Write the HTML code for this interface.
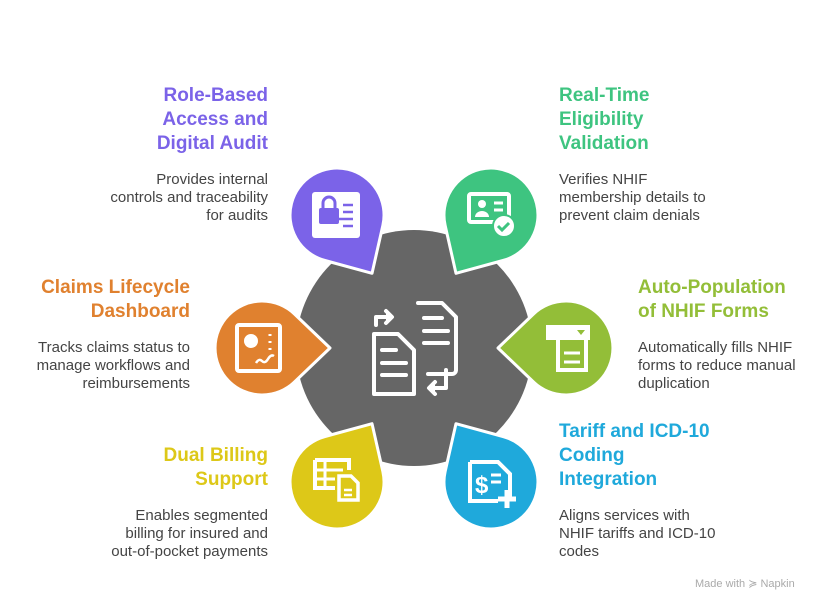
<!DOCTYPE html>
<html><head><meta charset="utf-8"><style>
html,body{margin:0;padding:0;background:#fff;}
body{width:828px;height:612px;position:relative;overflow:hidden;font-family:"Liberation Sans",Arial,sans-serif;}
.t{position:absolute;font-weight:bold;font-size:19px;line-height:24px;}
.d{position:absolute;font-size:15px;line-height:18px;color:#444;}
.r{text-align:right;}
</style></head><body>
<svg width="828" height="612" style="position:absolute;left:0;top:0">
<defs>
<path id="p" d="M68 0 L32.5 34 A47 47 0 1 1 32.5 -34 Z"/>
</defs>
<circle cx="414" cy="348" r="118" fill="#666666"/>
<g stroke="#fff" stroke-width="3" stroke-linejoin="round">
<use href="#p" transform="translate(262,348) rotate(0)" fill="#E0812F"/>
<use href="#p" transform="translate(337,215) rotate(59)" fill="#7B63E8"/>
<use href="#p" transform="translate(491,215) rotate(121)" fill="#3EC480"/>
<use href="#p" transform="translate(566,348) rotate(180)" fill="#93BE38"/>
<use href="#p" transform="translate(491,482) rotate(239)" fill="#1FA9DB"/>
<use href="#p" transform="translate(337,482) rotate(301)" fill="#DDC818"/>
</g>
<g fill="none" stroke="#fff" stroke-width="4" stroke-linecap="round" stroke-linejoin="round">
<path d="M418 303 h24 l14 14 v53 a4 4 0 0 1 -4 4 h-24"/>
<path d="M424 318 h18 M424 331 h24 M424 343 h24"/>
<path d="M374 334 h24 l16 16 v44 h-40 z"/>
<path d="M382 350 h14 M382 363 h24 M382 375 h24"/>
<path d="M376 325 v-8 h12"/><path d="M386 311 l6 6 l-6 6" fill="#fff"/>
<path d="M446 370 v18 h-14"/><path d="M435 382 l-6 6 l6 6" fill="#fff"/>
</g>
<rect x="312" y="192" width="48" height="46" rx="3" fill="#fff"/>
<rect x="319" y="208" width="20" height="16" rx="2" fill="#7B63E8"/>
<path d="M323 208 v-5 a6 6 0 0 1 12 0 v5" stroke="#7B63E8" stroke-width="3" fill="none"/>
<path d="M343 205 h10 M343 212 h10 M338 219 h15 M343 226 h10" stroke="#7B63E8" stroke-width="2.5"/>
<rect x="469" y="194" width="40" height="28" rx="2" fill="none" stroke="#fff" stroke-width="4"/>
<circle cx="482" cy="204" r="4" fill="#fff"/><path d="M475 217 a7 6 0 0 1 14 0z" fill="#fff"/>
<path d="M494 203 h9 M494 210 h9" stroke="#fff" stroke-width="3"/>
<circle cx="504" cy="226" r="11" fill="#fff" stroke="#3EC480" stroke-width="2"/>
<path d="M498 226 l4 4 l7 -7" stroke="#3EC480" stroke-width="3" fill="none"/>
<rect x="237" y="325" width="43" height="46" rx="2" fill="none" stroke="#fff" stroke-width="4"/>
<circle cx="251" cy="341" r="7" fill="#fff"/>
<path d="M270 334 v2 M270 341 v2 M270 348 v2" stroke="#fff" stroke-width="3"/>
<path d="M256 363 q3 -5 6 -2 t6 -2 t6 -3" stroke="#fff" stroke-width="2.5" fill="none"/>
<rect x="546" y="325" width="44" height="15" fill="#fff"/>
<path d="M558 340 v30 h28 v-45" stroke="#fff" stroke-width="4" fill="none"/>
<path d="M577 330 h8 l-4 5z" fill="#93BE38"/>
<path d="M564 353 h16 M564 362 h16" stroke="#fff" stroke-width="3"/>
<path d="M470 462 h28 l12 12 v24 M498 501 h-28 v-39" stroke="#fff" stroke-width="4" fill="none"/>
<text x="475" y="493" font-size="24" font-weight="bold" fill="#fff" font-family="Liberation Sans">$</text>
<path d="M491 475 h10 M491 482 h10" stroke="#fff" stroke-width="3"/>
<path d="M507 490 v18 M498 499 h18" stroke="#fff" stroke-width="5"/>
<path d="M315 460 h34 v10 M315 460 v28 h20" stroke="#fff" stroke-width="4" fill="none"/>
<path d="M315 470 h28 M315 479 h20 M325 462 v26" stroke="#fff" stroke-width="3"/>
<path d="M339 476 h12 l7 7 v17 h-19z" stroke="#fff" stroke-width="3.5" fill="none"/>
<path d="M344 490 h8 M344 495 h8" stroke="#fff" stroke-width="2.5"/>
</svg>

<div class="t r" style="right:560px;top:84px;color:#7B63E8">Role-Based<br>Access and<br>Digital Audit</div>
<div class="d r" style="right:560px;top:171px">Provides internal<br>controls and traceability<br>for audits</div>

<div class="t" style="left:559px;top:84px;color:#3EC480">Real-Time<br>Eligibility<br>Validation</div>
<div class="d" style="left:559px;top:171px">Verifies NHIF<br>membership details to<br>prevent claim denials</div>

<div class="t r" style="right:638px;top:276px;color:#E0812F">Claims Lifecycle<br>Dashboard</div>
<div class="d r" style="right:638px;top:339px">Tracks claims status to<br>manage workflows and<br>reimbursements</div>

<div class="t" style="left:638px;top:276px;color:#93BE38">Auto-Population<br>of NHIF Forms</div>
<div class="d" style="left:638px;top:339px">Automatically fills NHIF<br>forms to reduce manual<br>duplication</div>

<div class="t r" style="right:560px;top:444px;color:#DDC818">Dual Billing<br>Support</div>
<div class="d r" style="right:560px;top:507px">Enables segmented<br>billing for insured and<br>out-of-pocket payments</div>

<div class="t" style="left:559px;top:420px;color:#1FA9DB">Tariff and ICD-10<br>Coding<br>Integration</div>
<div class="d" style="left:559px;top:507px">Aligns services with<br>NHIF tariffs and ICD-10<br>codes</div>

<div style="position:absolute;left:695px;top:577px;font-size:11px;color:#aaa">Made with ≽ Napkin</div>
</body></html>
